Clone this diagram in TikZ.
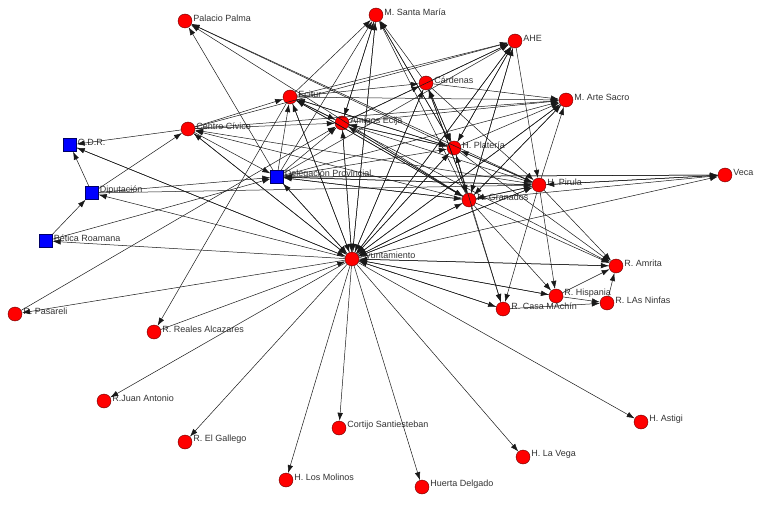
\documentclass[tikz,border=0pt]{standalone}
\usepackage{fontspec}
\setmainfont{Liberation Sans}
\usetikzlibrary{arrows.meta}
\begin{document}
\begin{tikzpicture}[x=1pt,y=-1pt,
 rn/.style={circle,fill=red,draw=black!60!red,line width=0.4pt,minimum size=14pt,inner sep=0pt},
 bn/.style={rectangle,fill=blue,draw=black!60!blue,line width=0.4pt,minimum size=13pt,inner sep=0pt},
 lbl/.style={font=\fontsize{9}{10}\selectfont,text=black!80,inner sep=1pt,anchor=west,yshift=2.5pt},
 edge/.style={draw=black!90,line width=0.5pt,-{Latex[length=8pt,width=5.5pt]}}]
\useasboundingbox[fill=white] (0,0) rectangle (765,505);
% nodes
\node[rn,label={[lbl]east:Palacio Palma}] (PP) at (185,21) {};
\node[rn,label={[lbl]east:M. Santa María}] (MSM) at (376,15) {};
\node[rn,label={[lbl]east:AHE}] (AHE) at (515,41) {};
\node[rn,label={[lbl]east:Cárdenas}] (CAR) at (426,83) {};
\node[rn,label={[lbl]east:M. Arte Sacro}] (MAS) at (566,100) {};
\node[rn,label={[lbl]east:Ecitur}] (ECI) at (290,97) {};
\node[rn,label={[lbl]east:Centro Cívico}] (CC) at (188,129) {};
\node[rn,label={[lbl]east:Amigos Écija}] (AMI) at (342,123) {};
\node[rn,label={[lbl]east:H. Platería}] (PLA) at (454,148) {};
\node[bn,label={[lbl]east:G.D.R.}] (GDR) at (70,145) {};
\node[rn,label={[lbl]east:H. Pirula}] (PIR) at (539,185) {};
\node[rn,label={[lbl]east:Veca}] (VEC) at (725,175) {};
\node[bn,label={[lbl]east:Diputación}] (DIP) at (92,193) {};
\node[bn,label={[lbl]east:Delegación Provincial}] (DEL) at (277,177) {};
\node[rn,label={[lbl]east:H. Granados}] (GRA) at (469,200) {};
\node[bn,label={[lbl]east:Bética Roamana}] (BET) at (46,241) {};
\node[rn,label={[lbl]east:Ayuntamiento}] (AYU) at (352,259) {};
\node[rn,label={[lbl]east:R. Amrita}] (AMR) at (616,266) {};
\node[rn,label={[lbl]east:R. Hispania}] (HIS) at (556,296) {};
\node[rn,label={[lbl]east:R. LAs Ninfas}] (NIN) at (607,303) {};
\node[rn,label={[lbl]east:R. Casa MAchín}] (CAS) at (503,309) {};
\node[rn,label={[lbl]east:R. Pasareli}] (PAS) at (15,314) {};
\node[rn,label={[lbl]east:R. Reales Alcazares}] (REA) at (154,332) {};
\node[rn,label={[lbl]east:R.Juan Antonio}] (JUA) at (104,401) {};
\node[rn,label={[lbl]east:H. Astigi}] (AST) at (641,422) {};
\node[rn,label={[lbl]east:Cortijo Santiesteban}] (COR) at (339,428) {};
\node[rn,label={[lbl]east:R. El Gallego}] (GAL) at (185,442) {};
\node[rn,label={[lbl]east:H. La Vega}] (VEG) at (523,457) {};
\node[rn,label={[lbl]east:H. Los Molinos}] (MOL) at (286,480) {};
\node[rn,label={[lbl]east:Huerta Delgado}] (HUE) at (422,487) {};
% edges
\foreach \a/\b in {
 ECI/MSM, AMI/MSM, AYU/MSM, DEL/MSM, CAR/MSM, PLA/MSM, GRA/MSM,
 ECI/AHE, AMI/AHE, CAR/AHE, PLA/AHE, GRA/AHE, CC/AHE, DEL/AHE, AYU/AHE,
 ECI/MAS, AMI/MAS, CAR/MAS, CC/MAS, DEL/MAS, PLA/MAS, GRA/MAS, AYU/MAS, PIR/MAS,
 AMI/CAR, PLA/CAR, GRA/CAR, AYU/CAR, ECI/CAR,
 CC/ECI, DEL/ECI, AMI/ECI, AYU/ECI, PLA/ECI, GRA/ECI,
 CC/AMI, ECI/AMI, DEL/AMI, AYU/AMI, PLA/AMI, GRA/AMI, MSM/AMI,
 AMI/PLA, ECI/PLA, CAR/PLA, AYU/PLA, DEL/PLA, GRA/PLA, PIR/PLA, MSM/PLA, AHE/PLA,
 AMI/GRA, ECI/GRA, PLA/GRA, AYU/GRA, DEL/GRA, CAR/GRA, PIR/GRA, AHE/GRA, MAS/GRA,
 AHE/PIR, GRA/PIR, PLA/PIR, AMI/PIR, AYU/PIR, DEL/PIR, CAR/PIR, VEC/PIR, DIP/PIR,
 PLA/PP, GRA/PP, PIR/PP, DEL/PP,
 DIP/CC, AYU/CC, GRA/CC, PIR/CC,
 CC/DEL, AYU/DEL, GRA/DEL, PIR/DEL, DIP/DEL, BET/DEL, VEC/DEL,
 ECI/AYU, AMI/AYU, CAR/AYU, PLA/AYU, GRA/AYU, PIR/AYU, DEL/AYU, CC/AYU,
 MSM/AYU, AHE/AYU, MAS/AYU, AMR/AYU, REA/AYU, GDR/AYU, HIS/AYU, CAS/AYU,
 AYU/GDR, AYU/DIP, AYU/BET, AYU/PAS, AYU/JUA, AYU/GAL, AYU/MOL, AYU/COR,
 AYU/HUE, AYU/VEG, AYU/AST, AYU/CAS, AYU/HIS, AYU/AMR, AYU/VEC,
 CC/GDR, DIP/GDR, BET/DIP, PAS/AMI, ECI/REA,
 PLA/CAS, GRA/CAS, GRA/HIS, PIR/HIS, PIR/CAS,
 CAS/NIN, HIS/NIN, NIN/AMR, HIS/AMR, PLA/AMR, GRA/AMR, PIR/AMR, AMI/AMR,
 PIR/VEC, GRA/VEC, DEL/VEC}
 \draw[edge] (\a) -- (\b);
\end{tikzpicture}
\end{document}
